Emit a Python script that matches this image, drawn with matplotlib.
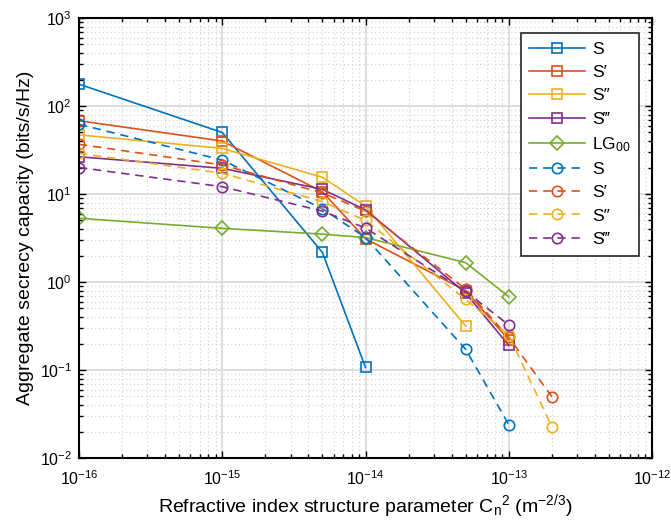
import numpy as np
import matplotlib
matplotlib.use("Agg")
import matplotlib.pyplot as plt
from matplotlib.ticker import FixedLocator, NullFormatter, LogFormatterSciNotation

plt.rcParams["font.family"] = ["Liberation Sans", "DejaVu Sans"]
plt.rcParams["mathtext.fontset"] = "custom"
plt.rcParams["mathtext.rm"] = "Liberation Sans"
plt.rcParams["mathtext.it"] = "Liberation Sans:italic"
plt.rcParams["mathtext.default"] = "regular"
plt.rcParams["axes.unicode_minus"] = False

# turbulence strength values (m^-2/3)
cn2 = [1e-16, 1e-15, 5e-15, 1e-14, 5e-14, 1e-13, 2e-13]

# solid curves (squares / diamond)
s_sq = [177, 50, 2.17, 0.107]
s1_sq = [68, 40, 10.6, 3.1, 0.8, 0.22]
s2_sq = [47, 33, 15.5, 7.3, 0.316]
s3_sq = [26.5, 19.6, 11.3, 6.6, 0.75, 0.19]
lg00 = [5.3, 4.07, 3.5, 3.2, 1.66, 0.68]

# dashed curves (circles)
s_ci = [62, 24.3, 6.8, 3.2, 0.172, 0.024]
s1_ci = [36.7, 21.4, 10.3, 6.4, 0.83, 0.235, 0.0498]
s2_ci = [29, 17.2, 8.2, 5.0, 0.635, 0.25, 0.0227]
s3_ci = [20, 12.1, 6.4, 4.1, 0.78, 0.325]

labels = ["S", "S\u2032", "S\u2033", "S\u2034", "LG$_{00}$"]
colors = ["#0072BD", "#D95319", "#EDB120", "#7E2F8E", "#77AC30"]

fig = plt.figure(figsize=(6.71, 5.21), dpi=100)
ax = fig.add_axes([79 / 671, 63 / 521, 573 / 671, 440 / 521])

solid = [s_sq, s1_sq, s2_sq, s3_sq, lg00]
markers = ["s", "s", "s", "s", "D"]
for vals, c, m, lab in zip(solid, colors, markers, labels):
    ax.plot(cn2[:len(vals)], vals, color=c, linestyle="-", linewidth=1.2,
            marker=m, markersize=6.5 if m == "s" else 7,
            markerfacecolor="none", markeredgewidth=1.2, label=lab)

dashed = [s_ci, s1_ci, s2_ci, s3_ci]
for vals, c, lab in zip(dashed, colors[:4], labels[:4]):
    ax.plot(cn2[:len(vals)], vals, color=c, linestyle=(0, (5, 3.5)),
            linewidth=1.2, marker="o", markersize=7.5,
            markerfacecolor="none", markeredgewidth=1.2, label=lab)

ax.set_xscale("log")
ax.set_yscale("log")
ax.set_xlim(1e-16, 1e-12)
ax.set_ylim(1e-2, 1e3)

# fixed decades so no hidden labels fall outside the figure
xdec = np.arange(-16, -11)
ydec = np.arange(-2, 4)
ax.xaxis.set_major_locator(FixedLocator(10.0 ** xdec))
ax.yaxis.set_major_locator(FixedLocator(10.0 ** ydec))
ax.xaxis.set_major_formatter(LogFormatterSciNotation())
ax.yaxis.set_major_formatter(LogFormatterSciNotation())
xminor = [m * 10.0 ** d for d in xdec[:-1] for m in range(2, 10)]
yminor = [m * 10.0 ** d for d in ydec[:-1] for m in range(2, 10)]
ax.xaxis.set_minor_locator(FixedLocator(xminor))
ax.yaxis.set_minor_locator(FixedLocator(yminor))
ax.xaxis.set_minor_formatter(NullFormatter())
ax.yaxis.set_minor_formatter(NullFormatter())

ax.grid(True, which="major", color="#d9d9d9", linewidth=1.2, linestyle="-")
ax.grid(True, which="minor", color="#cfcfcf", linewidth=0.8, linestyle=(0, (1, 2.5)))
ax.set_axisbelow(True)
ax.tick_params(which="both", direction="in", top=True, right=True,
               labelsize=11.5, width=1, colors="black")
ax.tick_params(which="major", length=5)
ax.tick_params(axis="x", which="major", pad=8)
ax.tick_params(axis="y", which="major", pad=5)
ax.tick_params(which="minor", length=3)
for sp in ax.spines.values():
    sp.set_linewidth(1.5)

ax.set_xlabel("Refractive index structure parameter C$_n$$^2$ (m$^{-2/3}$)",
              fontsize=14, labelpad=3)
ax.set_ylabel("Aggregate secrecy capacity (bits/s/Hz)", fontsize=14, labelpad=4)

leg = ax.legend(loc="upper right", bbox_to_anchor=(0.9772, 0.966), fontsize=12.5,
                frameon=True, fancybox=False, edgecolor="#262626",
                handlelength=3.2, labelspacing=0.47, borderpad=0.5,
                handletextpad=0.4, borderaxespad=0)
leg.get_frame().set_linewidth(1.2)
leg.get_frame().set_alpha(1.0)

fig.savefig("out.png", dpi=100)
